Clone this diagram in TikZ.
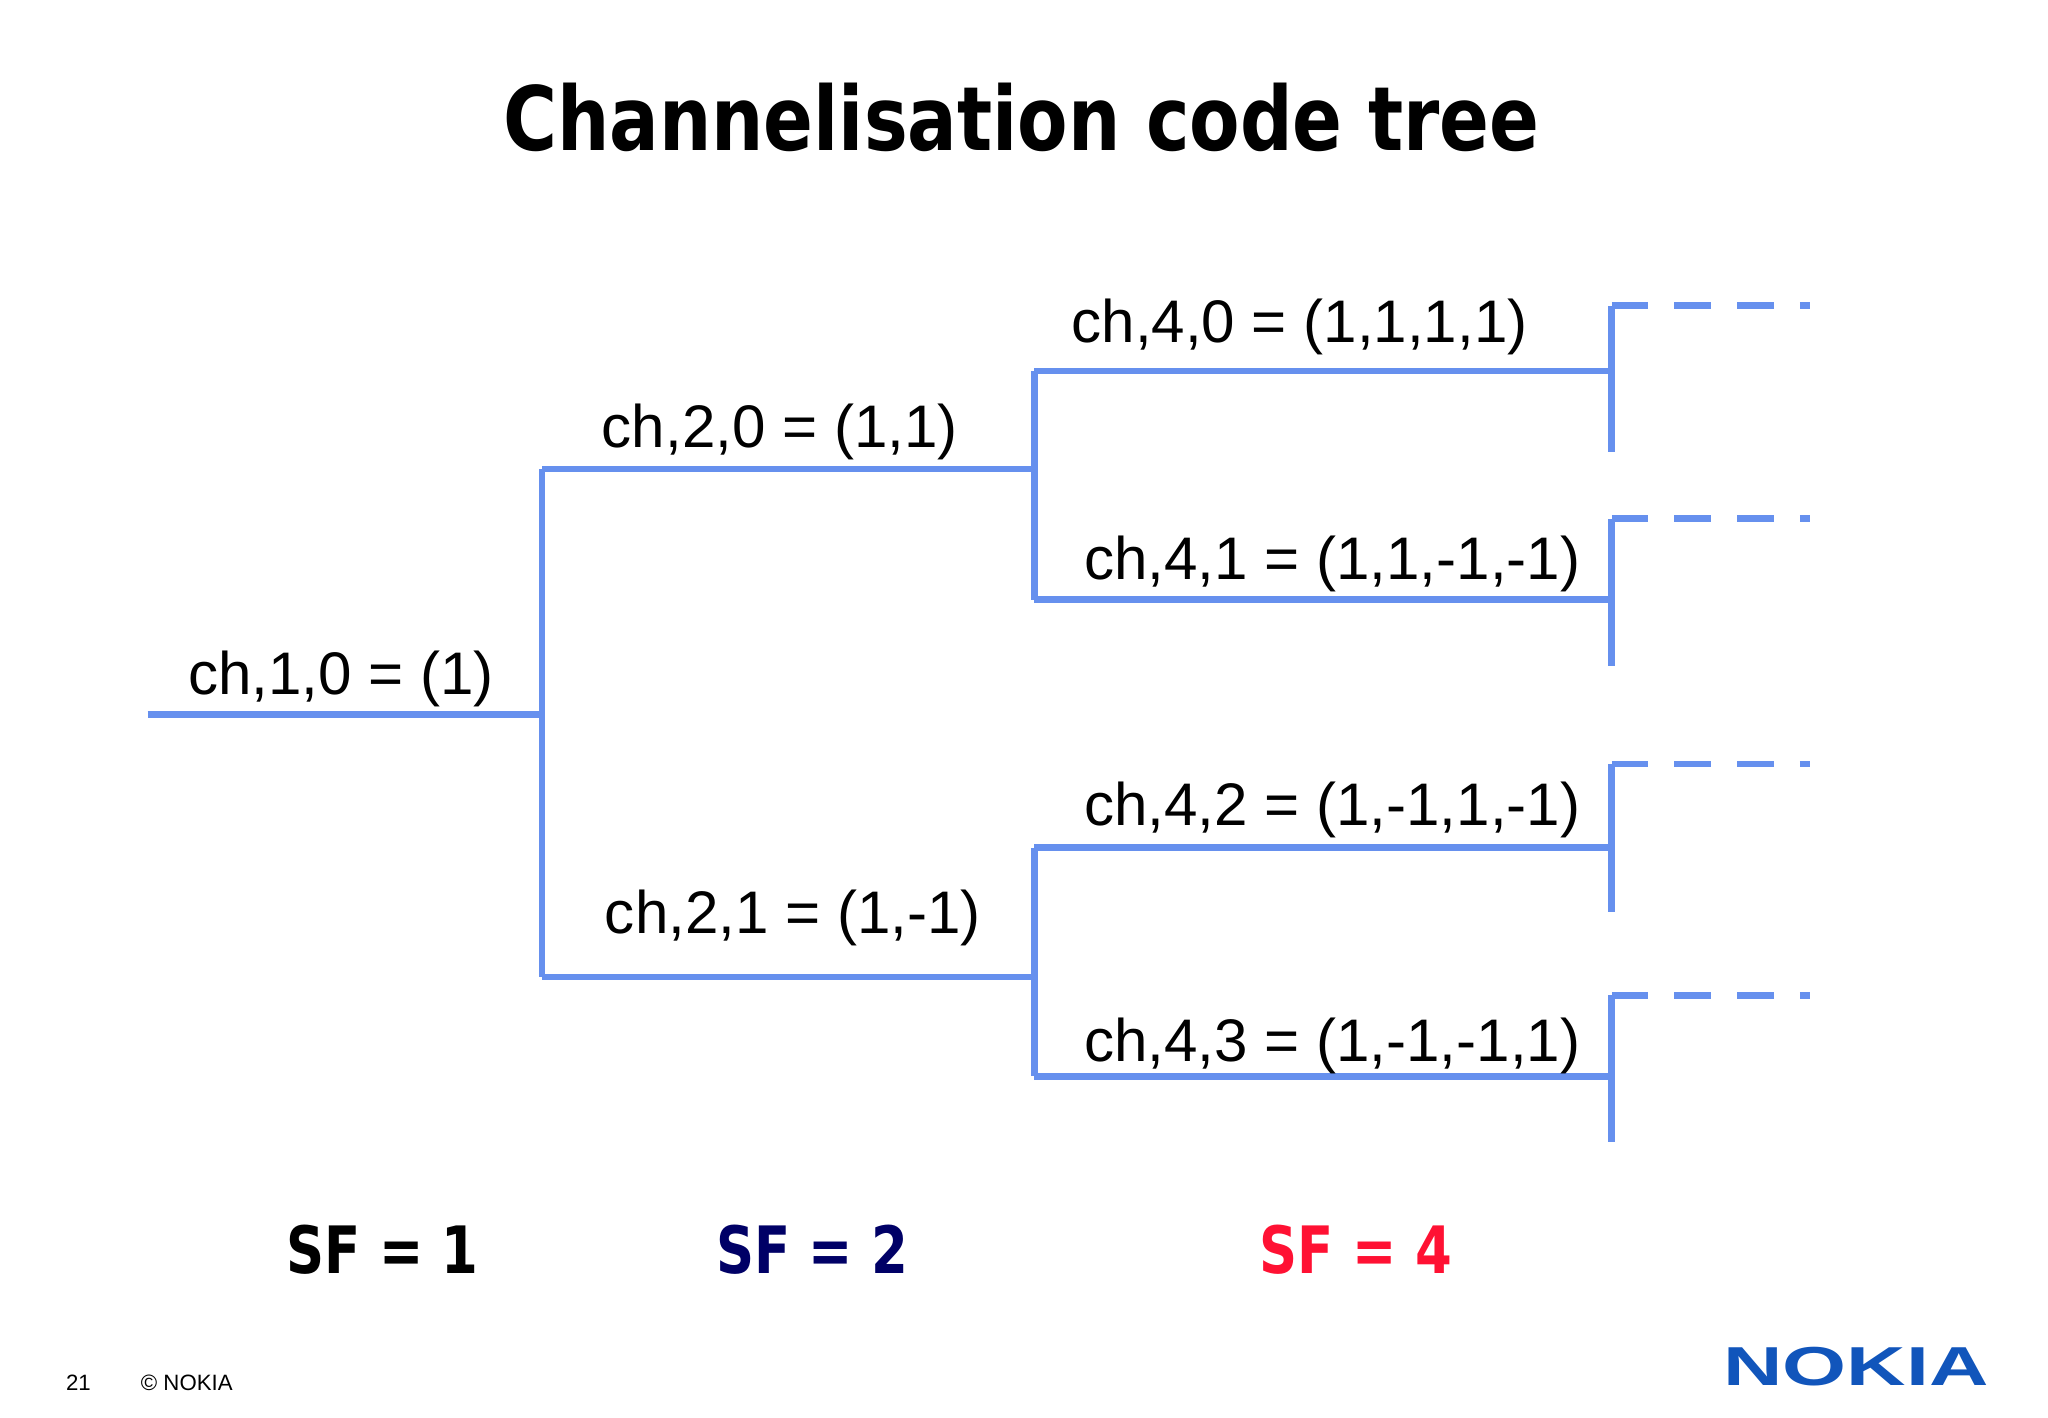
\documentclass[tikz,border=0pt]{standalone}
\usepackage{fontspec}
\setmainfont{Liberation Sans}
\newfontfamily\titlefont{DejaVu Sans Condensed}
\begin{document}
\begin{tikzpicture}[x=0.5pt,y=-0.5pt,
  br/.style={draw={rgb,255:red,102;green,144;blue,238},line width=2.6pt},
  dsh/.style={br,dash pattern=on 14pt off 10pt},
  lab/.style={font=\fontsize{23}{26}\selectfont,inner sep=0pt},
  sf/.style={font=\titlefont\bfseries\fontsize{25}{28}\selectfont,inner sep=0pt,xscale=0.9}]
\useasboundingbox (0,0) rectangle (1568,1085);
\node[font=\titlefont\bfseries\fontsize{34}{38}\selectfont,xscale=0.92] (title) at (782,90) {Channelisation code tree};
% coordinates
\coordinate (r0) at (113,547); \coordinate (r1) at (415,547);
\coordinate (v1t) at (415,359); \coordinate (v1b) at (415,748);
\coordinate (a1) at (792,359); \coordinate (b1) at (792,748);
\coordinate (v2t) at (792,284); \coordinate (v2b) at (792,459);
\coordinate (v3t) at (792,649); \coordinate (v3b) at (792,824);
\foreach \n/\y/\t/\b in {0/284/234/346,1/459/397/510,2/649/585/698,3/824/762/874}{
  \coordinate (e\n) at (1234,\y);
  \coordinate (t\n) at (1234,\t);
  \coordinate (u\n) at (1234,\b);
  \coordinate (d\n) at (1386,\t);
}
\draw[br] (r0) -- (r1);
\draw[br] (v1t) -- (v1b);
\draw[br] (v1t) -- (a1);
\draw[br] (v1b) -- (b1);
\draw[br] (v2t) -- (v2b);
\draw[br] (v3t) -- (v3b);
\draw[br] (v2t) -- (e0);
\draw[br] (v2b) -- (e1);
\draw[br] (v3t) -- (e2);
\draw[br] (v3b) -- (e3);
\foreach \n in {0,1,2,3}{
  \draw[br] (t\n) -- (u\n);
  \draw[dsh] (t\n) -- (d\n);
}
\node[lab] (l10) at (261,520) {ch,1,0 = (1)};
\node[lab] (l20) at (597,331) {ch,2,0 = (1,1)};
\node[lab] (l21) at (607,703) {ch,2,1 = (1,-1)};
\node[lab] (l40) at (995,250) {ch,4,0 = (1,1,1,1)};
\node[lab] (l41) at (1020,432) {ch,4,1 = (1,1,-1,-1)};
\node[lab] (l42) at (1020,620) {ch,4,2 = (1,-1,1,-1)};
\node[lab] (l43) at (1020,801) {ch,4,3 = (1,-1,-1,1)};
\node[sf] (s1) at (293,957) {SF = 1};
\node[sf,text={rgb,255:red,0;green,0;blue,102}] (s2) at (622,957) {SF = 2};
\node[sf,text={rgb,255:red,255;green,17;blue,51}] (s4) at (1038,957) {SF = 4};
\node[font=\fontsize{8.5}{10}\selectfont] (pg) at (60,1059) {21};
\node[font=\fontsize{8.5}{10}\selectfont] (cp) at (143,1059) {© NOKIA};
\node[font=\bfseries\fontsize{21}{24}\selectfont,text={rgb,255:red,17;green,85;blue,187},xscale=1.5] (logo) at (1421,1046) {NOKIA};
\end{tikzpicture}
\end{document}
